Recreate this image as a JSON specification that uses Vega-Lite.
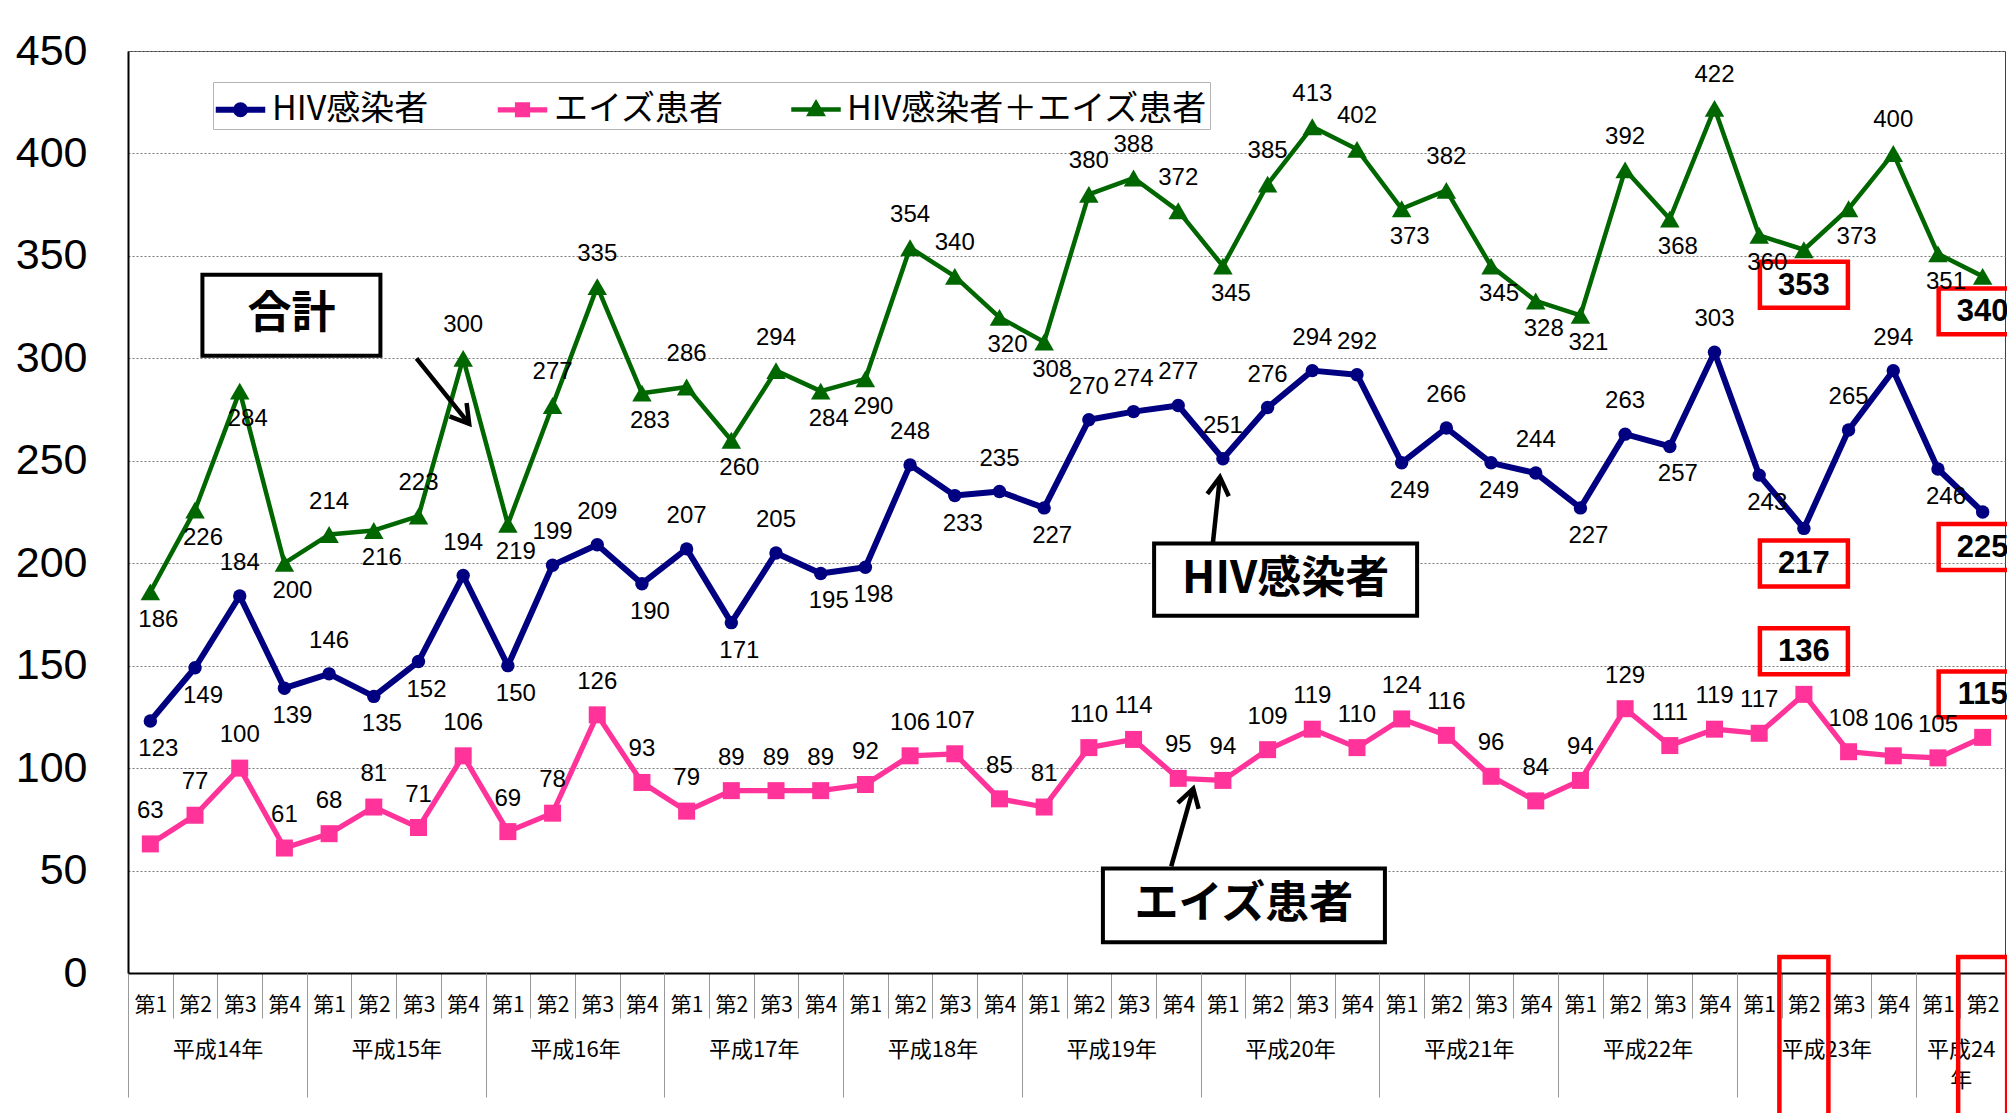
{
"$schema":"https://vega.github.io/schema/vega-lite/v6.json",
"width":1877,"height":922,
"autosize":{"type":"none"},
"padding":{"left":128,"top":51,"right":2,"bottom":140},
"background":"white",
"config":{"view":{"stroke":"#404040","strokeWidth":1}},
"datasets":{"d":[
{"p":"14-1","s":"HIV感染者","v":123},{"p":"14-2","s":"HIV感染者","v":149},{"p":"14-3","s":"HIV感染者","v":184},{"p":"14-4","s":"HIV感染者","v":139},
{"p":"15-1","s":"HIV感染者","v":146},{"p":"15-2","s":"HIV感染者","v":135},{"p":"15-3","s":"HIV感染者","v":152},{"p":"15-4","s":"HIV感染者","v":194},
{"p":"16-1","s":"HIV感染者","v":150},{"p":"16-2","s":"HIV感染者","v":199},{"p":"16-3","s":"HIV感染者","v":209},{"p":"16-4","s":"HIV感染者","v":190},
{"p":"17-1","s":"HIV感染者","v":207},{"p":"17-2","s":"HIV感染者","v":171},{"p":"17-3","s":"HIV感染者","v":205},{"p":"17-4","s":"HIV感染者","v":195},
{"p":"18-1","s":"HIV感染者","v":198},{"p":"18-2","s":"HIV感染者","v":248},{"p":"18-3","s":"HIV感染者","v":233},{"p":"18-4","s":"HIV感染者","v":235},
{"p":"19-1","s":"HIV感染者","v":227},{"p":"19-2","s":"HIV感染者","v":270},{"p":"19-3","s":"HIV感染者","v":274},{"p":"19-4","s":"HIV感染者","v":277},
{"p":"20-1","s":"HIV感染者","v":251},{"p":"20-2","s":"HIV感染者","v":276},{"p":"20-3","s":"HIV感染者","v":294},{"p":"20-4","s":"HIV感染者","v":292},
{"p":"21-1","s":"HIV感染者","v":249},{"p":"21-2","s":"HIV感染者","v":266},{"p":"21-3","s":"HIV感染者","v":249},{"p":"21-4","s":"HIV感染者","v":244},
{"p":"22-1","s":"HIV感染者","v":227},{"p":"22-2","s":"HIV感染者","v":263},{"p":"22-3","s":"HIV感染者","v":257},{"p":"22-4","s":"HIV感染者","v":303},
{"p":"23-1","s":"HIV感染者","v":243},{"p":"23-2","s":"HIV感染者","v":217},{"p":"23-3","s":"HIV感染者","v":265},{"p":"23-4","s":"HIV感染者","v":294},
{"p":"24-1","s":"HIV感染者","v":246},{"p":"24-2","s":"HIV感染者","v":225},
{"p":"14-1","s":"エイズ患者","v":63},{"p":"14-2","s":"エイズ患者","v":77},{"p":"14-3","s":"エイズ患者","v":100},{"p":"14-4","s":"エイズ患者","v":61},
{"p":"15-1","s":"エイズ患者","v":68},{"p":"15-2","s":"エイズ患者","v":81},{"p":"15-3","s":"エイズ患者","v":71},{"p":"15-4","s":"エイズ患者","v":106},
{"p":"16-1","s":"エイズ患者","v":69},{"p":"16-2","s":"エイズ患者","v":78},{"p":"16-3","s":"エイズ患者","v":126},{"p":"16-4","s":"エイズ患者","v":93},
{"p":"17-1","s":"エイズ患者","v":79},{"p":"17-2","s":"エイズ患者","v":89},{"p":"17-3","s":"エイズ患者","v":89},{"p":"17-4","s":"エイズ患者","v":89},
{"p":"18-1","s":"エイズ患者","v":92},{"p":"18-2","s":"エイズ患者","v":106},{"p":"18-3","s":"エイズ患者","v":107},{"p":"18-4","s":"エイズ患者","v":85},
{"p":"19-1","s":"エイズ患者","v":81},{"p":"19-2","s":"エイズ患者","v":110},{"p":"19-3","s":"エイズ患者","v":114},{"p":"19-4","s":"エイズ患者","v":95},
{"p":"20-1","s":"エイズ患者","v":94},{"p":"20-2","s":"エイズ患者","v":109},{"p":"20-3","s":"エイズ患者","v":119},{"p":"20-4","s":"エイズ患者","v":110},
{"p":"21-1","s":"エイズ患者","v":124},{"p":"21-2","s":"エイズ患者","v":116},{"p":"21-3","s":"エイズ患者","v":96},{"p":"21-4","s":"エイズ患者","v":84},
{"p":"22-1","s":"エイズ患者","v":94},{"p":"22-2","s":"エイズ患者","v":129},{"p":"22-3","s":"エイズ患者","v":111},{"p":"22-4","s":"エイズ患者","v":119},
{"p":"23-1","s":"エイズ患者","v":117},{"p":"23-2","s":"エイズ患者","v":136},{"p":"23-3","s":"エイズ患者","v":108},{"p":"23-4","s":"エイズ患者","v":106},
{"p":"24-1","s":"エイズ患者","v":105},{"p":"24-2","s":"エイズ患者","v":115},
{"p":"14-1","s":"HIV感染者＋エイズ患者","v":186},{"p":"14-2","s":"HIV感染者＋エイズ患者","v":226},{"p":"14-3","s":"HIV感染者＋エイズ患者","v":284},{"p":"14-4","s":"HIV感染者＋エイズ患者","v":200},
{"p":"15-1","s":"HIV感染者＋エイズ患者","v":214},{"p":"15-2","s":"HIV感染者＋エイズ患者","v":216},{"p":"15-3","s":"HIV感染者＋エイズ患者","v":223},{"p":"15-4","s":"HIV感染者＋エイズ患者","v":300},
{"p":"16-1","s":"HIV感染者＋エイズ患者","v":219},{"p":"16-2","s":"HIV感染者＋エイズ患者","v":277},{"p":"16-3","s":"HIV感染者＋エイズ患者","v":335},{"p":"16-4","s":"HIV感染者＋エイズ患者","v":283},
{"p":"17-1","s":"HIV感染者＋エイズ患者","v":286},{"p":"17-2","s":"HIV感染者＋エイズ患者","v":260},{"p":"17-3","s":"HIV感染者＋エイズ患者","v":294},{"p":"17-4","s":"HIV感染者＋エイズ患者","v":284},
{"p":"18-1","s":"HIV感染者＋エイズ患者","v":290},{"p":"18-2","s":"HIV感染者＋エイズ患者","v":354},{"p":"18-3","s":"HIV感染者＋エイズ患者","v":340},{"p":"18-4","s":"HIV感染者＋エイズ患者","v":320},
{"p":"19-1","s":"HIV感染者＋エイズ患者","v":308},{"p":"19-2","s":"HIV感染者＋エイズ患者","v":380},{"p":"19-3","s":"HIV感染者＋エイズ患者","v":388},{"p":"19-4","s":"HIV感染者＋エイズ患者","v":372},
{"p":"20-1","s":"HIV感染者＋エイズ患者","v":345},{"p":"20-2","s":"HIV感染者＋エイズ患者","v":385},{"p":"20-3","s":"HIV感染者＋エイズ患者","v":413},{"p":"20-4","s":"HIV感染者＋エイズ患者","v":402},
{"p":"21-1","s":"HIV感染者＋エイズ患者","v":373},{"p":"21-2","s":"HIV感染者＋エイズ患者","v":382},{"p":"21-3","s":"HIV感染者＋エイズ患者","v":345},{"p":"21-4","s":"HIV感染者＋エイズ患者","v":328},
{"p":"22-1","s":"HIV感染者＋エイズ患者","v":321},{"p":"22-2","s":"HIV感染者＋エイズ患者","v":392},{"p":"22-3","s":"HIV感染者＋エイズ患者","v":368},{"p":"22-4","s":"HIV感染者＋エイズ患者","v":422},
{"p":"23-1","s":"HIV感染者＋エイズ患者","v":360},{"p":"23-2","s":"HIV感染者＋エイズ患者","v":353},{"p":"23-3","s":"HIV感染者＋エイズ患者","v":373},{"p":"23-4","s":"HIV感染者＋エイズ患者","v":400},
{"p":"24-1","s":"HIV感染者＋エイズ患者","v":351},{"p":"24-2","s":"HIV感染者＋エイズ患者","v":340}
]},
"data":{"name":"d"},
"resolve":{"axis":{"x":"independent"}},
"layer":[
{"mark":{"type":"line","strokeJoin":"round"},
 "encoding":{
  "x":{"field":"p","type":"nominal","title":null,"scale":{"type":"band","paddingInner":0,"paddingOuter":0},
   "axis":{"orient":"bottom","tickBand":"extent","tickSize":45,"tickColor":"#999999","tickWidth":1,"domain":true,"domainColor":"#000000","domainWidth":2,"grid":false,
    "labelExpr":"datum.value == null ? '' : '第' + split(datum.value, '-')[1]","labelFont":"Noto Sans CJK JP","labelFontSize":21,"labelColor":"#000000","labelAngle":0,"labelBaseline":"middle","labelPadding":-13,"labelOverlap":false}},
  "y":{"field":"v","type":"quantitative","title":null,"scale":{"domain":[0,450],"nice":false},
   "axis":{"values":[0,50,100,150,200,250,300,350,400,450],"grid":true,"gridDash":[2,2],"gridColor":"#7a7a7a","gridWidth":1,"ticks":false,"domain":true,"domainColor":"#000000","domainWidth":2,
    "labelFont":"Liberation Sans","labelFontSize":43,"labelColor":"#000000","labelPadding":41}},
  "color":{"field":"s","type":"nominal","scale":{"domain":["HIV感染者","エイズ患者","HIV感染者＋エイズ患者"],"range":["#000080","#FF3399","#006600"]},
   "legend":{"orient":"none","legendX":85,"legendY":31,"direction":"horizontal","title":null,
    "padding":2,"fillColor":"#ffffff","strokeColor":"#b4b4b4","labelFont":"Noto Sans CJK JP","labelFontSize":34,"labelColor":"#000000","labelLimit":1000,"labelOffset":6,"columnPadding":58,
    "symbolSize":2025,"symbolStrokeWidth":4}},
  "strokeWidth":{"field":"s","type":"nominal","scale":{"domain":["HIV感染者","エイズ患者","HIV感染者＋エイズ患者"],"range":[6,4.5,4.5]},"legend":null}
 }},
{"transform":[{"filter":"false"}],
 "mark":{"type":"point","filled":true,"opacity":1,"size":2025},
 "encoding":{
  "x":{"field":"p","type":"nominal","axis":null},
  "y":{"field":"v","type":"quantitative","title":null},
  "fill":{"field":"s","type":"nominal","scale":{"domain":["HIV感染者","エイズ患者","HIV感染者＋エイズ患者"],"range":["#000080","#FF3399","#006600"]},"legend":null},
  "shape":{"field":"s","type":"nominal","scale":{"domain":["HIV感染者","エイズ患者","HIV感染者＋エイズ患者"],"range":[
    "M-1.1,0H1.1M-0.2,0A0.2,0.2 0 1,0 0.2,0A0.2,0.2 0 1,0 -0.2,0Z",
    "M-1.1,0H1.1M-0.22,-0.22H0.22V0.22H-0.22Z",
    "M-1.1,0H1.1M0,-0.27L0.27,0.2H-0.27Z"]},"legend":null}
 }},
{"transform":[{"filter":"datum.s == 'HIV感染者'"}],
 "mark":{"type":"point","shape":"circle","size":180,"filled":true,"color":"#000080","opacity":1},
 "encoding":{
  "x":{"field":"p","type":"nominal","title":null,
   "axis":{"orient":"bottom","values":["14-1","14-4","15-4","16-4","17-4","18-4","19-4","20-4","21-4","22-4","23-4","24-2"],"tickBand":"extent","tickSize":124,"tickColor":"#999999","tickWidth":1,"domain":false,"grid":false,
    "tickOpacity":{"condition":{"test":"datum.value == '14-1'","value":0},"value":1},
    "labelExpr":"(datum.value == null || datum.value == '14-1') ? '' : (datum.value == '24-2' ? ['平成24','年'] : '平成' + split(datum.value, '-')[0] + '年')",
    "labelOffset":{"condition":{"test":"datum.value == '24-2'","value":-22},"value":-67},
    "labelPadding":-58,"labelBaseline":"top","labelFont":"Noto Sans CJK JP","labelFontSize":22,"labelLineHeight":30,"labelColor":"#000000","labelAngle":0,"labelOverlap":false}},
  "y":{"field":"v","type":"quantitative","title":null}
 }},
{"transform":[{"filter":"datum.s == 'エイズ患者'"}],
 "mark":{"type":"point","shape":"square","size":289,"filled":true,"color":"#FF3399","opacity":1},
 "encoding":{"x":{"field":"p","type":"nominal","axis":null},"y":{"field":"v","type":"quantitative","title":null}}},
{"transform":[{"filter":"datum.s == 'HIV感染者＋エイズ患者'"}],
 "mark":{"type":"point","shape":"triangle-up","size":380,"filled":true,"color":"#006600","opacity":1},
 "encoding":{"x":{"field":"p","type":"nominal","axis":null},"y":{"field":"v","type":"quantitative","title":null}}},
{"transform":[{"filter":"(datum.p == '23-2' || datum.p == '24-2') && datum.s != 'エイズ患者'"}],
 "mark":{"type":"point","shape":"M-1,0.273H1V1.318H-1Z","size":7744,"filled":false,"color":"#FF0000","strokeWidth":4.5,"opacity":1},
 "encoding":{"x":{"field":"p","type":"nominal","axis":null},"y":{"field":"v","type":"quantitative","title":null}}},
{"transform":[{"filter":"(datum.p == '23-2' || datum.p == '24-2') && datum.s != 'エイズ患者'"}],
 "mark":{"type":"text","font":"Liberation Sans","fontSize":31,"fontWeight":"bold","color":"#000000","baseline":"middle","dy":36},
 "encoding":{"x":{"field":"p","type":"nominal","axis":null},"y":{"field":"v","type":"quantitative","title":null},"text":{"field":"v","type":"quantitative"}}},
{"transform":[{"filter":"(datum.p == '23-2' || datum.p == '24-2') && datum.s == 'エイズ患者'"}],
 "mark":{"type":"point","shape":"M-1,-1.5H1V-0.455H-1Z","size":7744,"filled":false,"color":"#FF0000","strokeWidth":4.5,"opacity":1},
 "encoding":{"x":{"field":"p","type":"nominal","axis":null},"y":{"field":"v","type":"quantitative","title":null}}},
{"transform":[{"filter":"(datum.p == '23-2' || datum.p == '24-2') && datum.s == 'エイズ患者'"}],
 "mark":{"type":"text","font":"Liberation Sans","fontSize":31,"fontWeight":"bold","color":"#000000","baseline":"middle","dy":-42},
 "encoding":{"x":{"field":"p","type":"nominal","axis":null},"y":{"field":"v","type":"quantitative","title":null},"text":{"field":"v","type":"quantitative"}}},
{"transform":[{"filter":"(datum.p == '23-2' || datum.p == '24-2') && datum.s == 'HIV感染者'"}],
 "mark":{"type":"point","shape":"M-1,-0.653H1V6.2H-1Z","size":2401,"filled":false,"color":"#FF0000","strokeWidth":4.5,"opacity":1},
 "encoding":{"x":{"field":"p","type":"nominal","axis":null},"y":{"datum":0,"type":"quantitative","title":null}}},
{"data":{"values":[{}]},
 "mark":{"type":"point","shape":"M-1,-0.455H1V0.455H-1Z","size":31684,"filled":true,"fill":"#ffffff","stroke":"#000000","strokeWidth":4,"opacity":1,"xOffset":7},
 "encoding":{"x":{"datum":"14-4","type":"nominal","axis":null},"y":{"datum":321,"type":"quantitative","title":null}}},
{"data":{"values":[{}]},
 "mark":{"type":"text","text":"合計","font":"Noto Sans CJK JP","fontSize":44,"fontWeight":"bold","color":"#000000","baseline":"middle","dx":7},
 "encoding":{"x":{"datum":"14-4","type":"nominal","axis":null},"y":{"datum":321,"type":"quantitative","title":null}}},
{"data":{"values":[{}]},
 "mark":{"type":"point","shape":"M-1,-0.274H1V0.274H-1Z","size":69169,"filled":true,"fill":"#ffffff","stroke":"#000000","strokeWidth":4,"opacity":1,"xOffset":18},
 "encoding":{"x":{"datum":"20-2","type":"nominal","axis":null},"y":{"datum":192,"type":"quantitative","title":null}}},
{"data":{"values":[{}]},
 "mark":{"type":"text","text":"HIV感染者","font":"Noto Sans CJK JP","fontSize":44,"fontWeight":"bold","color":"#000000","baseline":"middle","dx":18},
 "encoding":{"x":{"datum":"20-2","type":"nominal","axis":null},"y":{"datum":192,"type":"quantitative","title":null}}},
{"data":{"values":[{}]},
 "mark":{"type":"point","shape":"M-1,-0.262H1V0.262H-1Z","size":79524,"filled":true,"fill":"#ffffff","stroke":"#000000","strokeWidth":4,"opacity":1,"xOffset":21},
 "encoding":{"x":{"datum":"20-1","type":"nominal","axis":null},"y":{"datum":33,"type":"quantitative","title":null}}},
{"data":{"values":[{}]},
 "mark":{"type":"text","text":"エイズ患者","font":"Noto Sans CJK JP","fontSize":44,"fontWeight":"bold","color":"#000000","baseline":"middle","dx":21},
 "encoding":{"x":{"datum":"20-1","type":"nominal","axis":null},"y":{"datum":33,"type":"quantitative","title":null}}},
{"data":{"values":[{}]},
 "mark":{"type":"rule","color":"#000000","strokeWidth":4.5,"xOffset":-2,"x2Offset":6},
 "encoding":{"x":{"datum":"15-3","type":"nominal","axis":null},"x2":{"datum":"15-4"},"y":{"datum":300,"type":"quantitative","title":null},"y2":{"datum":268}}},
{"data":{"values":[{}]},
 "mark":{"type":"point","shape":"M-0.9,1.5L0,0L0.9,1.5","size":576,"angle":142,"filled":false,"color":"#000000","strokeWidth":4.5,"opacity":1,"xOffset":6},
 "encoding":{"x":{"datum":"15-4","type":"nominal","axis":null},"y":{"datum":268,"type":"quantitative","title":null}}},
{"data":{"values":[{}]},
 "mark":{"type":"rule","color":"#000000","strokeWidth":4.5,"xOffset":-10,"x2Offset":-3},
 "encoding":{"x":{"datum":"20-1","type":"nominal","axis":null},"x2":{"datum":"20-1"},"y":{"datum":210,"type":"quantitative","title":null},"y2":{"datum":242}}},
{"data":{"values":[{}]},
 "mark":{"type":"point","shape":"M-0.9,1.5L0,0L0.9,1.5","size":576,"angle":6,"filled":false,"color":"#000000","strokeWidth":4.5,"opacity":1,"xOffset":-3},
 "encoding":{"x":{"datum":"20-1","type":"nominal","axis":null},"y":{"datum":242,"type":"quantitative","title":null}}},
{"data":{"values":[{}]},
 "mark":{"type":"rule","color":"#000000","strokeWidth":4.5,"xOffset":-7,"x2Offset":15},
 "encoding":{"x":{"datum":"19-4","type":"nominal","axis":null},"x2":{"datum":"19-4"},"y":{"datum":52,"type":"quantitative","title":null},"y2":{"datum":90}}},
{"data":{"values":[{}]},
 "mark":{"type":"point","shape":"M-0.9,1.5L0,0L0.9,1.5","size":576,"angle":16,"filled":false,"color":"#000000","strokeWidth":4.5,"opacity":1,"xOffset":15},
 "encoding":{"x":{"datum":"19-4","type":"nominal","axis":null},"y":{"datum":90,"type":"quantitative","title":null}}},
{"transform":[
  {"window":[{"op":"lag","field":"v","as":"prev"},{"op":"lead","field":"v","as":"next"}],"groupby":["s"],"sort":[{"field":"p","order":"ascending"}]},
  {"filter":"datum.p != '23-2' && datum.p != '24-2' && (datum.s == 'エイズ患者' || (datum.s == 'HIV感染者' && datum.p == '20-1') || (datum.s == 'HIV感染者＋エイズ患者' && datum.p == '15-3') || (!(datum.s == 'HIV感染者＋エイズ患者' && datum.p == '14-3') && datum.v >= ((datum.prev == null ? datum.next : datum.prev) + (datum.next == null ? datum.prev : datum.next)) / 2))"}],
 "mark":{"type":"text","font":"Liberation Sans","fontSize":24,"color":"#000000","baseline":"middle","dy":-33},
 "encoding":{"x":{"field":"p","type":"nominal","axis":null},"y":{"field":"v","type":"quantitative","title":null},"text":{"field":"v","type":"quantitative"}}},
{"transform":[
  {"window":[{"op":"lag","field":"v","as":"prev"},{"op":"lead","field":"v","as":"next"}],"groupby":["s"],"sort":[{"field":"p","order":"ascending"}]},
  {"filter":"datum.p != '23-2' && datum.p != '24-2' && datum.s != 'エイズ患者' && !(datum.s == 'HIV感染者' && datum.p == '20-1') && !(datum.s == 'HIV感染者＋エイズ患者' && datum.p == '15-3') && ((datum.s == 'HIV感染者＋エイズ患者' && datum.p == '14-3') || !(datum.v >= ((datum.prev == null ? datum.next : datum.prev) + (datum.next == null ? datum.prev : datum.next)) / 2))"}],
 "mark":{"type":"text","font":"Liberation Sans","fontSize":24,"color":"#000000","baseline":"middle","dy":28,"dx":8},
 "encoding":{"x":{"field":"p","type":"nominal","axis":null},"y":{"field":"v","type":"quantitative","title":null},"text":{"field":"v","type":"quantitative"}}}
]
}
